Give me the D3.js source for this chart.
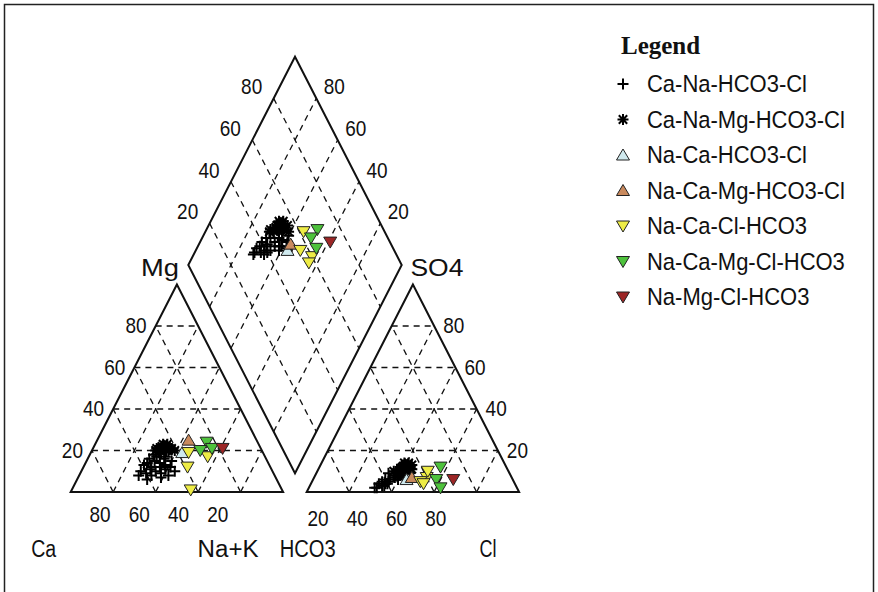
<!DOCTYPE html>
<html>
<head>
<meta charset="utf-8">
<script src="https://cdn.jsdelivr.net/npm/d3@7"></script>
<style>
body { margin: 0; background: #fff; }
text { font-family: "Liberation Sans", Arial, sans-serif; fill: #111; }
</style>
</head>
<body>
<div id="piper"></div>
<script>
// each row: Ca, Mg, Na+K, HCO3, SO4, Cl  (% meq)
var caNaHco3Cl = [
  [55,10,35, 58,6,36], [58,8,34, 60,4,36], [52,12,36, 55,7,38], [60,9,31, 63,3,34],
  [62,10,28, 66,2,32], [57,14,29, 62,5,33], [50,11,39, 52,8,40], [49,13,38, 50,9,41],
  [54,7,39, 54,6,40], [53,15,32, 58,6,36], [48,16,36, 51,10,39], [51,17,32, 55,8,37],
  [56,12,32, 59,5,36], [47,12,41, 48,10,42], [46,10,44, 47,9,44], [59,13,28, 64,4,32],
  [50,8,42, 50,7,43], [45,15,40, 46,12,42], [61,6,33, 62,3,35], [52,18,30, 57,9,34],
  [49,19,32, 52,11,37], [55,16,29, 60,6,34], [53,9,38, 53,8,39], [47,17,36, 48,13,39],
  [57,11,32, 61,4,35], [64,8,28, 67,2,31], [51,14,35, 54,8,38], [48,19,33, 50,12,38]
];
var caNaMgHco3Cl = [
  [46,21,33, 47,13,40], [44,22,34, 45,14,41], [48,20,32, 50,11,39], [43,23,34, 46,12,42],
  [45,20,35, 48,10,42], [47,21,32, 52,9,39], [42,21,37, 44,13,43], [50,20,30, 54,10,36],
  [44,20,36, 46,11,43], [46,22,32, 49,12,39], [41,20,39, 45,11,44], [49,21,30, 53,8,39],
  [43,21,36, 47,12,41], [45,23,32, 47,14,39]
];
var naCaHco3Cl = [[38,19,43, 50,6,44]];
var naCaMgHco3Cl = [[32,25,43, 47,7,46]];
var naCaClHco3 = [[27,17,56, 40,7,53], [39,12,49, 44,5,51], [43,1,56, 43,4,53], [35,19,46, 38,10,52]];
var naCaMgClHco3 = [[24,24,52, 31,12,57], [29,20,51, 36,6,58], [23,21,56, 36,2,62]];
var naMgClHco3 = [[18,21,61, 28,6,66]];

var gridTicks = [20, 40, 60, 80];
var legendNames = ["Ca-Na-HCO3-Cl", "Ca-Na-Mg-HCO3-Cl", "Na-Ca-HCO3-Cl", "Na-Ca-Mg-HCO3-Cl",
                   "Na-Ca-Cl-HCO3", "Na-Ca-Mg-Cl-HCO3", "Na-Mg-Cl-HCO3"];
var legendSymbols = ["plus", "star", "up", "up", "down", "down", "down"];
var legendColors = ["#000", "#000", "#cfe9ee", "#c98a5e", "#eeec45", "#4ec23c", "#9c2626"];

var groups = [caNaHco3Cl, caNaMgHco3Cl, naCaHco3Cl, naCaMgHco3Cl, naCaClHco3, naCaMgClHco3, naMgClHco3]
  .map(function(rows, i) {
    return { name: legendNames[i], rows: rows, symbol: legendSymbols[i], color: legendColors[i] };
  });

var svg = d3.select("#piper").append("svg")
    .attr("width", 878)
    .attr("height", 592);

// frame (bottom edge falls outside the picture)
svg.append("rect")
    .attr("x", 4.5).attr("y", 4.5).attr("width", 869).attr("height", 600)
    .attr("fill", "none").attr("stroke", "#222").attr("stroke-width", 1.5);

// scales
var xCat = d3.scaleLinear().domain([0, 100]).range([70.7, 283.1]);
var xAn = d3.scaleLinear().domain([0, 100]).range([306.7, 519.1]);
var yTri = d3.scaleLinear().domain([0, 100]).range([492, 284.5]);
var xDia = d3.scaleLinear().domain([-100, 100]).range([188.3, 401.7]);
var yDia = d3.scaleLinear().domain([0, 200]).range([473.3, 56.7]);

function catPt(ca, mg, na) { return [xCat(na + mg / 2), yTri(mg)]; }
function anPt(hco3, so4, cl) { return [xAn(cl + so4 / 2), yTri(so4)]; }
function diaPt(na, clso4) { return [xDia(clso4 + na - 100), yDia(100 - na + clso4)]; }

var line = d3.line();

// text is a little taller than wide, like the picture
function putText(parent, x, y, str, anchor) {
  return parent.append("text")
      .attr("transform", "translate(" + x + "," + y + ") scale(1,1.12)")
      .attr("dy", "0.35em")
      .attr("text-anchor", anchor)
      .text(str);
}

// dashed grid
var gridLines = [];
gridTicks.forEach(function(v) {
  gridLines.push([catPt(100 - v, v, 0), catPt(0, v, 100 - v)]);
  gridLines.push([catPt(v, 0, 100 - v), catPt(v, 100 - v, 0)]);
  gridLines.push([catPt(100 - v, 0, v), catPt(0, 100 - v, v)]);
  gridLines.push([anPt(100 - v, v, 0), anPt(0, v, 100 - v)]);
  gridLines.push([anPt(v, 0, 100 - v), anPt(v, 100 - v, 0)]);
  gridLines.push([anPt(100 - v, 0, v), anPt(0, 100 - v, v)]);
  gridLines.push([diaPt(v, 0), diaPt(v, 100)]);
  gridLines.push([diaPt(0, v), diaPt(100, v)]);
});
svg.append("g").selectAll("path").data(gridLines).enter().append("path")
    .attr("d", line)
    .attr("fill", "none")
    .attr("stroke", "#111")
    .attr("stroke-width", 1.3)
    .attr("stroke-dasharray", "6,5");

// outlines
var outlines = [
  [catPt(100, 0, 0), catPt(0, 100, 0), catPt(0, 0, 100)],
  [anPt(100, 0, 0), anPt(0, 100, 0), anPt(0, 0, 100)],
  [diaPt(0, 0), diaPt(0, 100), diaPt(100, 100), diaPt(100, 0)]
];
svg.append("g").selectAll("path").data(outlines).enter().append("path")
    .attr("d", function(d) { return line(d) + "Z"; })
    .attr("fill", "none")
    .attr("stroke", "#111")
    .attr("stroke-width", 2);

// symbols
var symbolPaths = {
  plus: "M-5.5,0H5.5M0,-5.5V5.5",
  star: "M-5.5,0H5.5M0,-5.5V5.5M-4.2,-4.2L4.2,4.2M-4.2,4.2L4.2,-4.2",
  up: "M0,-6L6.5,5H-6.5Z",
  down: "M0,6L6.5,-5H-6.5Z"
};

function drawSymbol(sel, g) {
  var open = g.symbol == "plus" || g.symbol == "star";
  sel.append("path")
      .attr("d", symbolPaths[g.symbol])
      .attr("fill", open ? "none" : g.color)
      .attr("stroke", open ? "#000" : "#222")
      .attr("stroke-width", open ? 2 : 1);
}

var pts = svg.append("g");
groups.forEach(function(g) {
  g.rows.forEach(function(r) {
    var places = [catPt(r[0], r[1], r[2]), anPt(r[3], r[4], r[5]), diaPt(r[2], r[4] + r[5])];
    places.forEach(function(p) {
      var s = pts.append("g").attr("transform", "translate(" + p[0] + "," + p[1] + ")");
      drawSymbol(s, g);
    });
  });
});

// tick labels
var labels = svg.append("g").attr("font-size", 19);
gridTicks.forEach(function(v) {
  var p = catPt(100 - v, v, 0);
  putText(labels, p[0] - 9, p[1], v, "end");
  p = anPt(0, v, 100 - v);
  putText(labels, p[0] + 9, p[1], v, "start");
  p = catPt(v, 0, 100 - v);
  putText(labels, p[0] - 18 + (v - 50) * 0.16, 515, v, "middle");
  p = anPt(100 - v, 0, v);
  putText(labels, p[0] - 36 - (v - 50) * 0.16, 519, v, "middle");
  p = diaPt(0, v);
  putText(labels, p[0] - 22, p[1] - 11.5, v, "middle");
  p = diaPt(100 - v, 100);
  putText(labels, p[0] + 18, p[1] - 11.5, v, "middle");
});

// apex labels
var apexNames = [
  { t: "Mg", p: catPt(0, 100, 0), dx: -17, dy: -16.5, w: 38 },
  { t: "SO4", p: anPt(0, 100, 0), dx: 24, dy: -16.5, w: 53 },
  { t: "Ca", p: catPt(100, 0, 0), dx: -27, dy: 57, w: 25 },
  { t: "Na+K", p: catPt(0, 0, 100), dx: -55, dy: 57, w: 61 },
  { t: "HCO3", p: anPt(100, 0, 0), dx: 1, dy: 57, w: 56 },
  { t: "Cl", p: anPt(0, 0, 100), dx: -31, dy: 57, w: 17 }
];
var names = svg.append("g").attr("font-size", 21);
apexNames.forEach(function(d) {
  putText(names, d.p[0] + d.dx, d.p[1] + d.dy, d.t, "middle")
      .attr("textLength", d.w)
      .attr("lengthAdjust", "spacingAndGlyphs");
});

// legend
var legend = svg.append("g");
legend.append("text")
    .attr("x", 621).attr("y", 45).attr("dy", "0.35em")
    .style("font-family", "'Liberation Serif', 'Times New Roman', serif")
    .attr("font-weight", "bold").attr("font-size", 25)
    .text("Legend");
groups.forEach(function(g, i) {
  var row = legend.append("g").attr("transform", "translate(623," + (84 + i * 35.5) + ")");
  drawSymbol(row, g);
  var t = row.append("text")
      .attr("transform", "translate(24,0) scale(1,1.08)")
      .attr("dy", "0.35em")
      .attr("font-size", 22)
      .text(g.name);
});
</script>
</body>
</html>
